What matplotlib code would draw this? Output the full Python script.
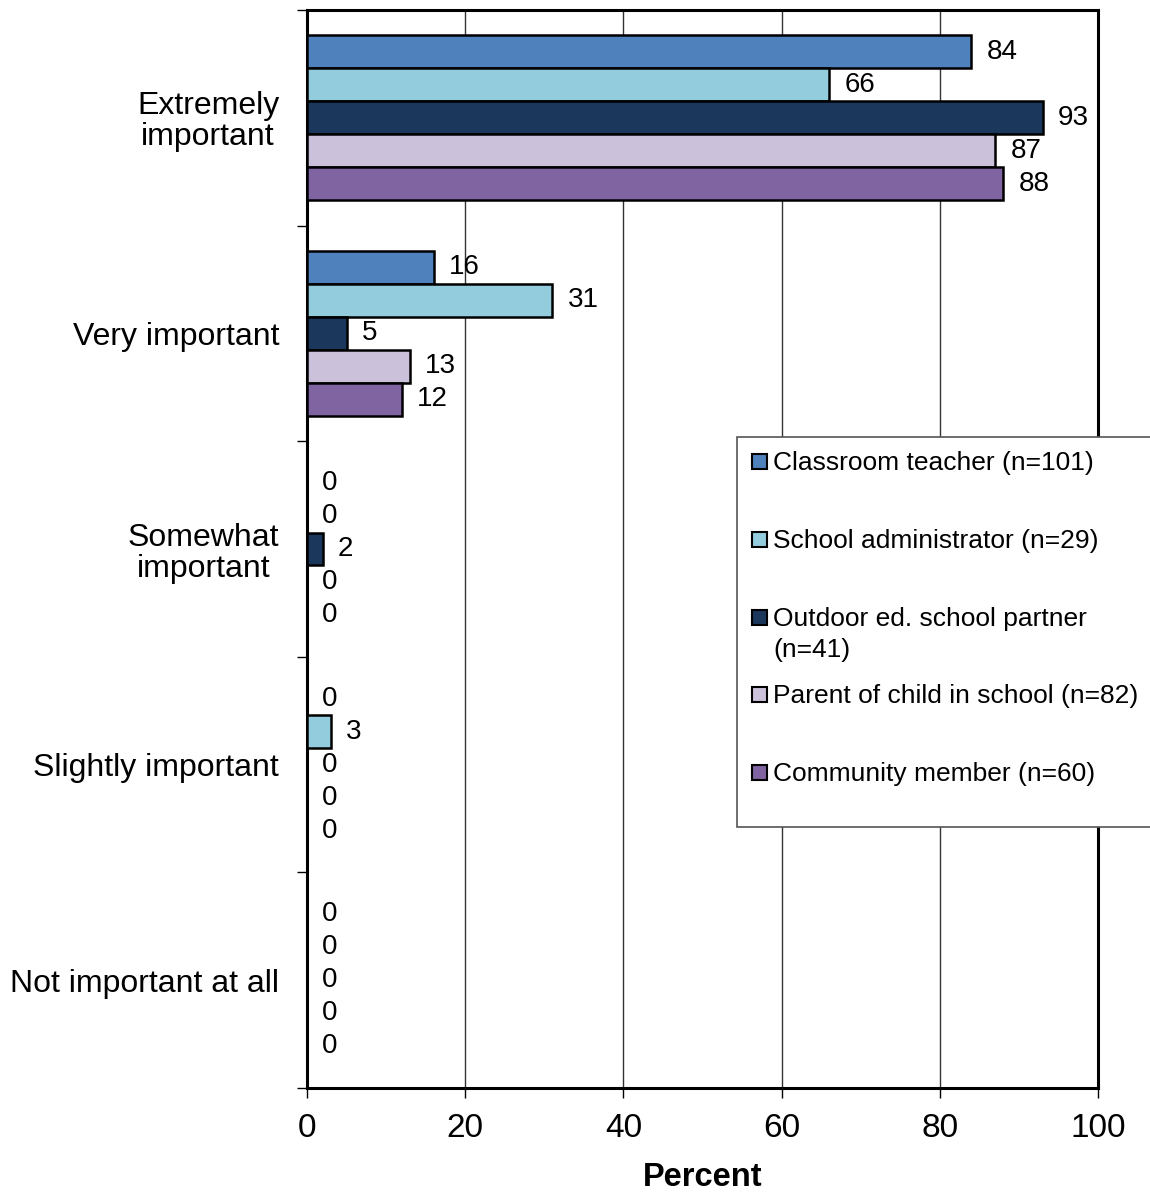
import matplotlib
matplotlib.use("Agg")
import matplotlib.pyplot as plt
from matplotlib.patches import Rectangle
import numpy as np

plt.rcParams['font.family'] = ['Liberation Sans', 'DejaVu Sans']

categories = ["Extremely\nimportant", "Very important", "Somewhat\nimportant",
              "Slightly important", "Not important at all"]
series_names = ["Classroom teacher (n=101)", "School administrator (n=29)",
                "Outdoor ed. school partner\n(n=41)", "Parent of child in school (n=82)",
                "Community member (n=60)"]
teacher = [84, 16, 0, 0, 0]
administrator = [66, 31, 0, 3, 0]
partner = [93, 5, 2, 0, 0]
parent = [87, 13, 0, 0, 0]
community = [88, 12, 0, 0, 0]
series_values = [teacher, administrator, partner, parent, community]
colors = ["#4F81BD", "#93CDDD", "#1B375C", "#CCC1DA", "#8064A2"]
x_ticks = [0, 20, 40, 60, 80, 100]

W, H = 1150, 1194
fig = plt.figure(figsize=(W / 100, H / 100), dpi=100)
ax = fig.add_axes([307 / W, 1 - 1088 / H, (1098 - 307) / W, (1088 - 10) / H])

n_series = len(series_values)
bar_h = 0.153
y_base = np.arange(len(categories))
for i, (vals, col) in enumerate(zip(series_values, colors)):
    y = y_base + (i - (n_series - 1) / 2) * bar_h
    ax.barh(y, vals, height=bar_h, color=col, edgecolor="black",
            linewidth=1.8, zorder=3)
    for yy, v in zip(y, vals):
        ax.annotate(f"{v}", xy=(v, yy), xytext=(11, 0), textcoords="offset points",
                    ha="left", va="center", fontsize=20, color="black", zorder=4)

ax.set_xlim(0, 100)
ax.set_ylim(len(categories) - 0.5, -0.5)
ax.set_xticks(x_ticks)
ax.set_xticklabels([str(t) for t in x_ticks], fontsize=24)
ax.tick_params(axis="x", length=7, width=1, pad=11, direction="out")
ax.set_yticks(y_base)
ax.set_yticklabels(categories, fontsize=23)
for lbl in ax.get_yticklabels():
    lbl.set_multialignment("center")
    lbl.set_linespacing(1.05)
ax.tick_params(axis="y", which="major", length=0, pad=20)
ax.set_yticks(np.arange(len(categories) + 1) - 0.5, minor=True)
ax.tick_params(axis="y", which="minor", length=7, width=1, direction="out")
ax.xaxis.grid(True, color="#333333", linewidth=1, zorder=0)
ax.set_axisbelow(True)
for s in ax.spines.values():
    s.set_linewidth(2.2)
    s.set_color("black")
ax.set_xlabel("Percent", fontsize=23.5, fontweight="bold", labelpad=13)

# Legend panel
lx0, ly0, ly1 = 737, 437, 827
fig.patches.append(Rectangle((lx0 / W, 1 - ly1 / H), (W + 10 - lx0) / W, (ly1 - ly0) / H,
                             transform=fig.transFigure, facecolor="white",
                             edgecolor="#555555", linewidth=1.2, zorder=10))
baselines = [470, 548, 626, 703, 781]
line_step = 31
for name, col, by in zip(series_names, colors, baselines):
    fig.patches.append(Rectangle((752 / W, 1 - (by - 1) / H), 15 / W, 15 / H,
                                 transform=fig.transFigure, facecolor=col,
                                 edgecolor="black", linewidth=1.5, zorder=11))
    for k, line in enumerate(name.split("\n")):
        fig.text(773 / W, 1 - (by + k * line_step) / H, line, fontsize=19,
                 ha="left", va="baseline", zorder=12)

fig.savefig("out.png", dpi=100)
